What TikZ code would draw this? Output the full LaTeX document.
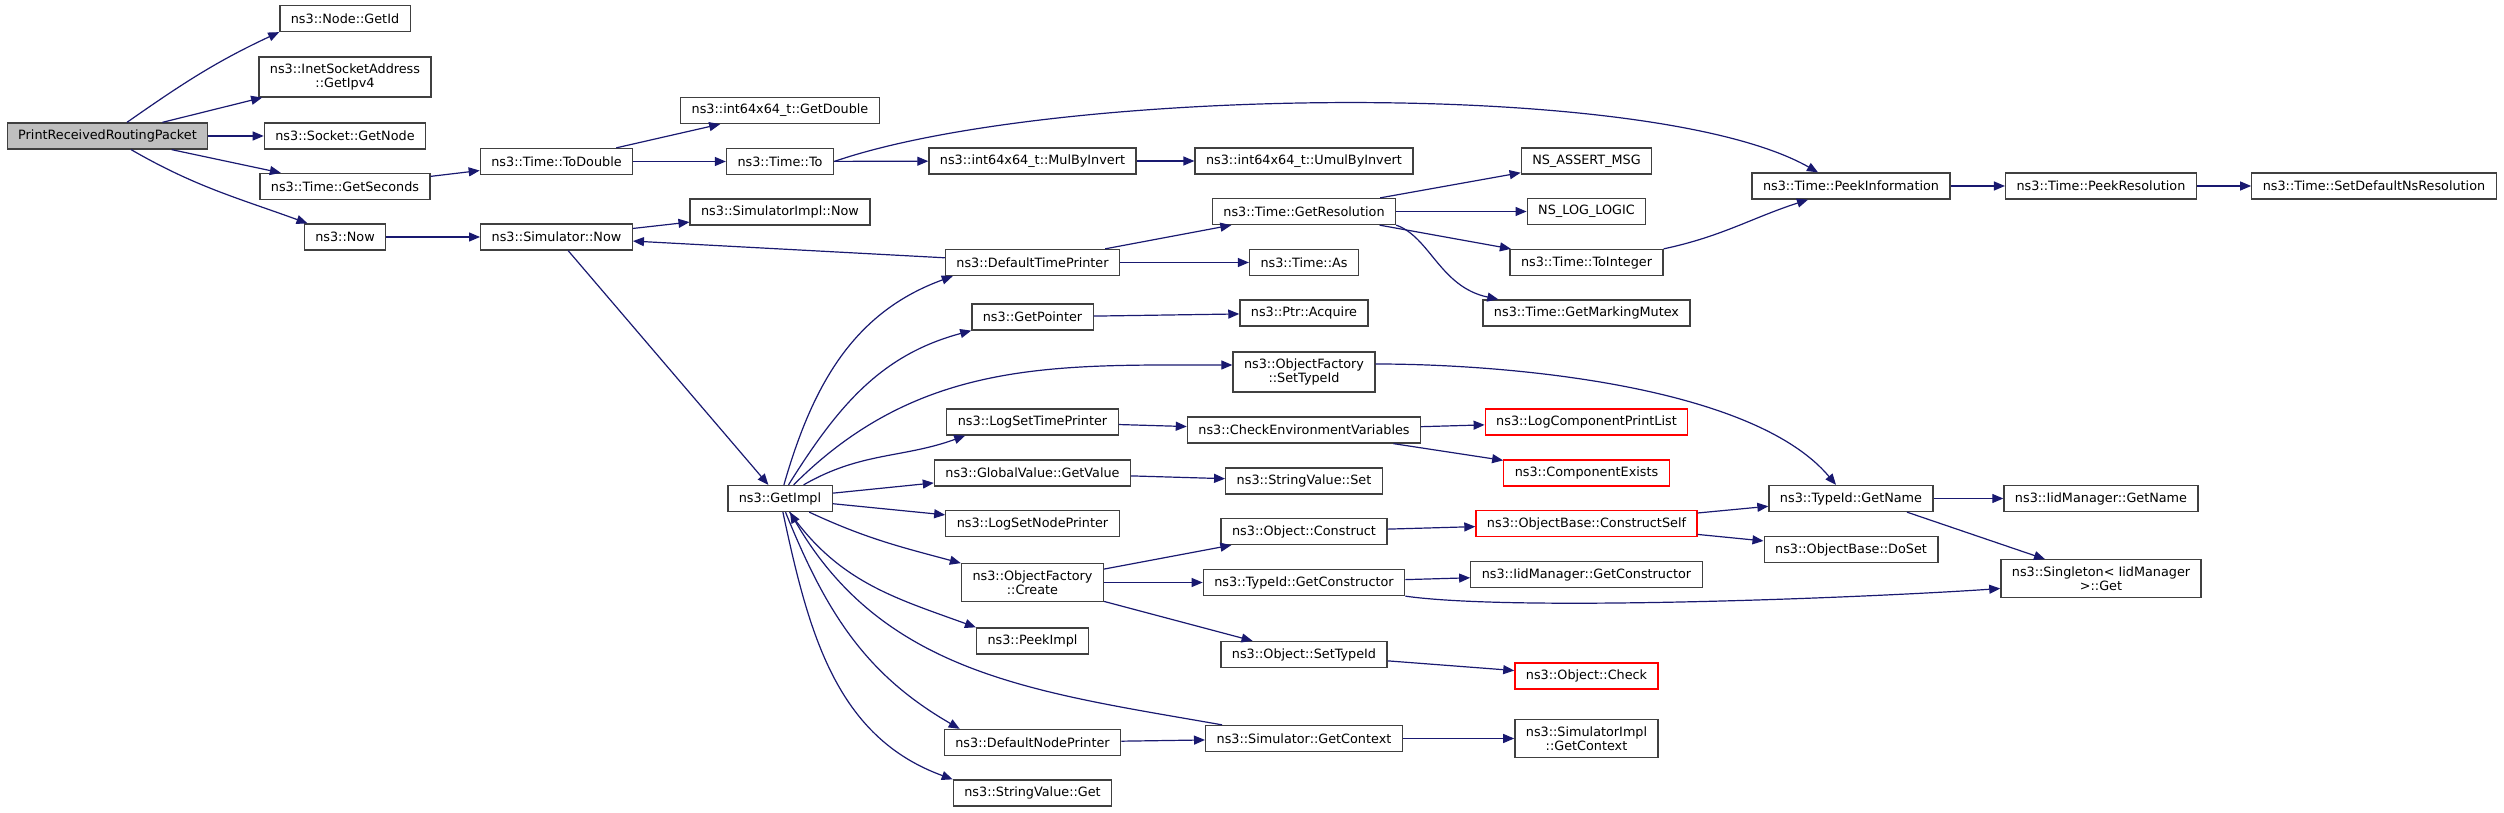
\documentclass[tikz,border=0pt]{standalone}
\usepackage{fontspec}
\setmainfont{DejaVu Sans}
\usetikzlibrary{arrows.meta}

\begin{document}
\begin{tikzpicture}[x=1pt, y=1pt,
    fn/.style={draw=borderColour, fill=white, line width=1.3pt, inner xsep=11pt, inner ysep=6.5pt,
        minimum height=26pt, align=center, font={\fontsize{12.8}{14.5}\selectfont}},
    fnroot/.style={fn, fill=rootColour},
    fntrunc/.style={fn, draw=truncColour},
    call/.style={draw=edgeColour, line width=1.2pt, -{Triangle[length=11pt,width=9pt]}}]
    % Define colours
    \definecolor{borderColour}{HTML}{404040}
    \definecolor{rootColour}{HTML}{BFBFBF}
    \definecolor{truncColour}{HTML}{FF0000}
    \definecolor{edgeColour}{HTML}{191970}

    % Define column positions
    \def\colA{107.5}
    \def\colB{345}
    \def\colC{556.5}
    \def\colD{780}
    \def\colE{1032.5}
    \def\colF{1304}
    \def\colG{1586.5}
    \def\colH{1851}
    \def\colI{2101}
    \def\colJ{2374}

    \useasboundingbox (0,0) rectangle (2504,812);

    % Draw first columns
    \node[fnroot] (prrp) at (\colA,676) {PrintReceivedRoutingPacket};
    \node[fn] (nodeGetId) at (\colB,793.5) {ns3::Node::GetId};
    \node[fn] (inetGetIpv4) at (\colB,735) {ns3::InetSocketAddress\\::GetIpv4};
    \node[fn] (socketGetNode) at (\colB,676) {ns3::Socket::GetNode};
    \node[fn] (timeGetSeconds) at (\colB,625.5) {ns3::Time::GetSeconds};
    \node[fn] (now) at (\colB,575) {ns3::Now};
    \node[fn] (timeToDouble) at (\colC,650.5) {ns3::Time::ToDouble};
    \node[fn] (simNow) at (\colC,575) {ns3::Simulator::Now};
    \node[fn] (intGetDouble) at (\colD,701.5) {ns3::int64x64\_t::GetDouble};
    \node[fn] (timeTo) at (\colD,650.5) {ns3::Time::To};
    \node[fn] (simImplNow) at (\colD,600) {ns3::SimulatorImpl::Now};
    \node[fn] (getImpl) at (\colD,313.5) {ns3::GetImpl};

    % Draw middle column
    \node[fn] (mulByInvert) at (\colE,651) {ns3::int64x64\_t::MulByInvert};
    \node[fn] (defTimePrinter) at (\colE,549.5) {ns3::DefaultTimePrinter};
    \node[fn] (getPointer) at (\colE,495) {ns3::GetPointer};
    \node[fn] (logSetTime) at (\colE,390) {ns3::LogSetTimePrinter};
    \node[fn] (globalGetValue) at (\colE,339) {ns3::GlobalValue::GetValue};
    \node[fn] (logSetNode) at (\colE,288.5) {ns3::LogSetNodePrinter};
    \node[fn] (factCreate) at (\colE,229.5) {ns3::ObjectFactory\\::Create};
    \node[fn] (peekImpl) at (\colE,171) {ns3::PeekImpl};
    \node[fn] (defNodePrinter) at (\colE,69.5) {ns3::DefaultNodePrinter};
    \node[fn] (stringGet) at (\colE,19) {ns3::StringValue::Get};

    \node[fn] (umulByInvert) at (\colF,651) {ns3::int64x64\_t::UmulByInvert};
    \node[fn] (getResolution) at (\colF,600.5) {ns3::Time::GetResolution};
    \node[fn] (timeAs) at (\colF,549.5) {ns3::Time::As};
    \node[fn] (ptrAcquire) at (\colF,499) {ns3::Ptr::Acquire};
    \node[fn] (factSetTypeId) at (\colF,440) {ns3::ObjectFactory\\::SetTypeId};
    \node[fn] (checkEnv) at (\colF,382) {ns3::CheckEnvironmentVariables};
    \node[fn] (stringSet) at (\colF,331) {ns3::StringValue::Set};
    \node[fn] (objConstruct) at (\colF,280.5) {ns3::Object::Construct};
    \node[fn] (typeIdGetCtor) at (\colF,229.5) {ns3::TypeId::GetConstructor};
    \node[fn] (objSetTypeId) at (\colF,157.5) {ns3::Object::SetTypeId};
    \node[fn] (simGetContext) at (\colF,73.5) {ns3::Simulator::GetContext};

    \node[fn] (assertMsg) at (\colG,651) {NS\_ASSERT\_MSG};
    \node[fn] (logLogic) at (\colG,600.5) {NS\_LOG\_LOGIC};
    \node[fn] (toInteger) at (\colG,549.5) {ns3::Time::ToInteger};
    \node[fn] (markingMutex) at (\colG,499) {ns3::Time::GetMarkingMutex};
    \node[fntrunc] (printList) at (\colG,390) {ns3::LogComponentPrintList};
    \node[fntrunc] (compExists) at (\colG,339) {ns3::ComponentExists};
    \node[fntrunc] (constructSelf) at (\colG,288.5) {ns3::ObjectBase::ConstructSelf};
    \node[fn] (iidGetCtor) at (\colG,237.5) {ns3::IidManager::GetConstructor};
    \node[fntrunc] (objCheck) at (\colG,136) {ns3::Object::Check};
    \node[fn] (implGetContext) at (\colG,73.5) {ns3::SimulatorImpl\\::GetContext};

    % Draw right columns
    \node[fn] (peekInfo) at (\colH,626) {ns3::Time::PeekInformation};
    \node[fn] (typeIdGetName) at (\colH,313.5) {ns3::TypeId::GetName};
    \node[fn] (objDoSet) at (\colH,262.5) {ns3::ObjectBase::DoSet};
    \node[fn] (peekResolution) at (\colI,626) {ns3::Time::PeekResolution};
    \node[fn] (iidGetName) at (\colI,313.5) {ns3::IidManager::GetName};
    \node[fn] (singletonGet) at (\colI,233.5) {ns3::Singleton< IidManager\\ >::Get};
    \node[fn] (setDefaultRes) at (\colJ,626) {ns3::Time::SetDefaultNsResolution};

    % Draw calls from the root
    \draw[call] (prrp) to[out=35,in=205] (nodeGetId.south west);
    \draw[call] (prrp) -- (inetGetIpv4);
    \draw[call] (prrp) -- (socketGetNode);
    \draw[call] (prrp) -- (timeGetSeconds);
    \draw[call] (prrp) to[out=-30,in=160] (now);

    % Draw time calls
    \draw[call] (timeGetSeconds) -- (timeToDouble);
    \draw[call] (timeToDouble) -- (intGetDouble);
    \draw[call] (timeToDouble) -- (timeTo);
    \draw[call] (timeTo) -- (mulByInvert);
    \draw[call] (timeTo.east) .. controls (1050,725) and (1650,735) .. ([xshift=-33pt]peekInfo.north);
    \draw[call] (mulByInvert) -- (umulByInvert);
    \draw[call] (now) -- (simNow);
    \draw[call] (simNow) -- (simImplNow);
    \draw[call] (simNow) -- (getImpl);
    \draw[call] (defTimePrinter) -- (simNow);
    \draw[call] (defTimePrinter) -- (getResolution);
    \draw[call] (defTimePrinter) -- (timeAs);
    \draw[call] (getResolution) -- (assertMsg);
    \draw[call] (getResolution) -- (logLogic);
    \draw[call] (getResolution) -- (toInteger);
    \draw[call] (getResolution.south east) .. controls (1430,575) and (1440,525) .. ([xshift=16pt]markingMutex.north west);
    \draw[call] (toInteger.north east) to[out=12,in=198] ([xshift=-43pt]peekInfo.south);
    \draw[call] (peekInfo) -- (peekResolution);
    \draw[call] (peekResolution) -- (setDefaultRes);

    % Draw calls from GetImpl
    \draw[call] (getImpl) to[out=74,in=200] ([xshift=8pt]defTimePrinter.south west);
    \draw[call] (getImpl) to[out=58,in=195] (getPointer.south west);
    \draw[call] (getImpl) to[out=45,in=180] ([yshift=7pt]factSetTypeId.west);
    \draw[call] (getImpl) to[out=30,in=200] ([xshift=19pt]logSetTime.south west);
    \draw[call] (getImpl) -- (globalGetValue);
    \draw[call] (getImpl) -- (logSetNode);
    \draw[call] (getImpl) to[out=-25,in=165] (factCreate.north west);
    \draw[call] (getImpl) to[out=-55,in=160] (peekImpl.north west);
    \draw[call] (getImpl) to[out=-68,in=150] ([xshift=16pt]defNodePrinter.north west);
    \draw[call] (getImpl) to[out=-78,in=160] (stringGet.north west);
    \draw[call] ([xshift=17pt]simGetContext.north west) to[out=170,in=-60] ([xshift=10pt]getImpl.south);

    % Draw remaining calls
    \draw[call] (getPointer) -- (ptrAcquire);
    \draw[call] ([yshift=8pt]factSetTypeId.east) to[out=0,in=130,looseness=0.7] ([xshift=-15pt]typeIdGetName.north);
    \draw[call] (logSetTime) -- (checkEnv);
    \draw[call] (checkEnv) -- (printList);
    \draw[call] (checkEnv) -- (compExists);
    \draw[call] (globalGetValue) -- (stringSet);
    \draw[call] (factCreate) -- (objConstruct);
    \draw[call] (factCreate) -- (typeIdGetCtor);
    \draw[call] (factCreate) -- (objSetTypeId);
    \draw[call] (objConstruct) -- (constructSelf);
    \draw[call] (constructSelf) -- (typeIdGetName);
    \draw[call] (constructSelf) -- (objDoSet);
    \draw[call] (typeIdGetCtor) -- (iidGetCtor);
    \draw[call] (typeIdGetCtor.south east) to[out=-8,in=184,looseness=0.5] ([yshift=-10pt]singletonGet.west);
    \draw[call] (typeIdGetName) -- (iidGetName);
    \draw[call] ([xshift=56pt]typeIdGetName.south) -- ([xshift=-56pt]singletonGet.north);
    \draw[call] (objSetTypeId) -- (objCheck);
    \draw[call] (defNodePrinter) -- (simGetContext);
    \draw[call] (simGetContext) -- (implGetContext);

\end{tikzpicture}
\end{document}
